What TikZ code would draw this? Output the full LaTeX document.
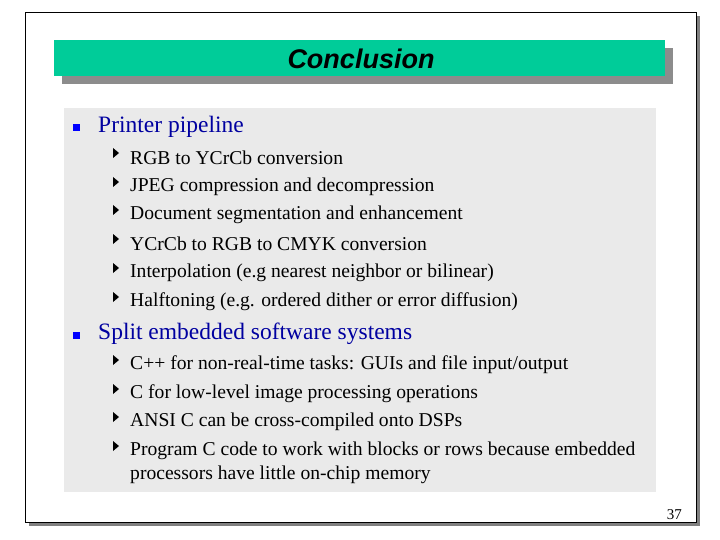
\documentclass[tikz,border=0pt]{standalone}
\usepackage{fontspec}
\setmainfont{Liberation Serif}
\setsansfont{Liberation Sans}
\definecolor{teal1}{RGB}{0,204,153}
\definecolor{dblue}{RGB}{0,0,160}
\definecolor{bgray}{RGB}{234,234,234}
\tikzset{main/.style={anchor=west,font=\fontsize{23.5}{26}\selectfont,text=dblue,inner sep=0},
sub/.style={anchor=west,font=\fontsize{19.6}{22}\selectfont,inner sep=0},
sq/.style={fill=blue,minimum size=7pt,inner sep=0},
tri/.style={fill=black,inner sep=0,minimum size=0}}
\begin{document}
\begin{tikzpicture}[x=1pt,y=-1pt]
\useasboundingbox (0,0) rectangle (720,540);
\fill[white] (0,0) rectangle (720,540);
\fill[gray] (29,16) rectangle (700,526);
\draw[black,fill=white] (25,12) rectangle (696,522);
\fill[gray!90] (62,48) rectangle (673,84);
\fill[teal1] (54,40) rectangle (665,76);
\node[font=\fontsize{27}{30}\selectfont\sffamily\bfseries\itshape] (title) at (361,59) {Conclusion};
\fill[bgray] (64,108) rectangle (656,492);
\node[sq] (b1) at (76,128) {};
\node[main] (m1) at (98,127) {Printer pipeline};
\foreach \y/\t [count=\i] in {158/{RGB to YCrCb conversion},187/{JPEG compression and decompression},215/{Document segmentation and enhancement},244/{YCrCb to RGB to CMYK conversion},273/{Interpolation (e.g nearest neighbor or bilinear)},302/{Halftoning (e.g. ordered dither or error diffusion)}}{
\fill[black] (113,\y-10) -- (119,\y-5) -- (113,\y) -- cycle;
\node[sub] (sa\i) at (130,\y) {\t};}
\node[sq] (b2) at (76,335) {};
\node[main] (m2) at (98,334) {Split embedded software systems};
\foreach \y/\t [count=\i] in {365/{C++ for non-real-time tasks: GUIs and file input/output},394/{C for low-level image processing operations},422/{ANSI C can be cross-compiled onto DSPs},451/{Program C code to work with blocks or rows because embedded}}{
\fill[black] (113,\y-10) -- (119,\y-5) -- (113,\y) -- cycle;
\node[sub] (sb\i) at (130,\y) {\t};}
\node[sub] (sb5) at (130,475) {processors have little on-chip memory};
\node[font=\fontsize{15}{16}\selectfont,anchor=east,inner sep=0] (pg) at (682,515) {37};
\end{tikzpicture}
\end{document}
